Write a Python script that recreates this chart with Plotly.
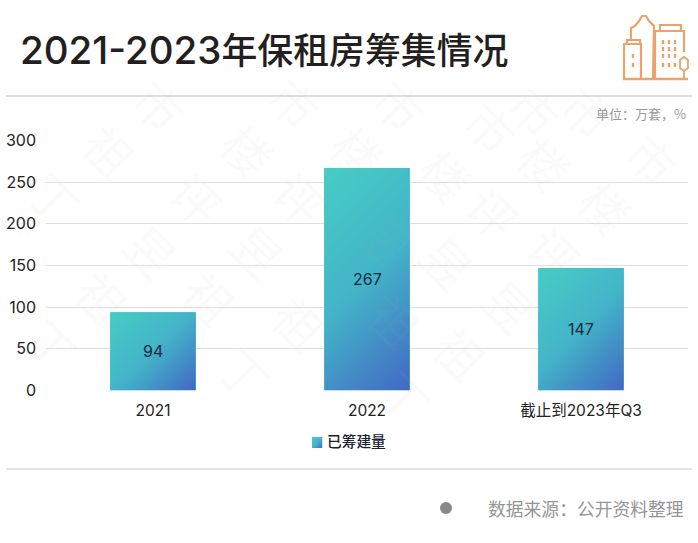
import base64
import plotly.graph_objects as go

categories = ["2021", "2022", "截止到2023年Q3"]
values = [94, 267, 147]
series_name = "已筹建量"
y_ticks = [0, 50, 100, 150, 200, 250, 300]
title_digits = "2021-2023"
title_rest = "年保租房筹集情况"
unit_text = "单位：万套，%"
source_text = "数据来源：公开资料整理"

W, H = 698, 543
FONT = "Inter, 'Noto Sans CJK SC', sans-serif"
CJK = "'Noto Sans CJK SC', sans-serif"
ORANGE = "#e9a36c"

wm_chars = ["祖", "楼", "楼", "丁", "评", "评", "昱", "昱", "祖", "祖", "祖", "丁", "丁",
            "市", "市", "市", "市", "市", "市", "楼", "楼", "楼", "评", "评", "昱", "昱", "祖",
            "昱", "祖", "丁", "市"]
wm_xy = [(110, 150), (248, 150), (358, 152), (55, 197), (197, 198), (300, 198), (152, 250), (258, 250),
         (103, 297), (210, 297), (300, 322), (52, 343), (245, 372),
         (160, 105), (295, 102), (400, 105), (491, 127), (588, 112), (653, 158),
         (446, 175), (545, 163), (606, 207), (493, 212), (555, 252), (448, 262), (510, 305), (461, 352),
         (388, 240), (395, 320), (405, 395), (535, 110)]


def px(x, y):
    return x / W, 1 - y / H


def note(x, y, text, size, color, anchor="left", family=FONT, weight=400):
    fx, fy = px(x, y)
    return dict(x=fx, y=fy, xref="paper", yref="paper", text=text, showarrow=False,
                xanchor=anchor, yanchor="middle",
                font=dict(size=size, color=color, family=family, weight=weight))


def gradient(w, h):
    """A 45-degree gradient for a box of w x h screen pixels, as a data URI."""
    end = (w + h) / 2
    svg = (f'<svg xmlns="http://www.w3.org/2000/svg" width="{w:.1f}" height="{h:.1f}" '
           f'viewBox="0 0 {w:.1f} {h:.1f}" preserveAspectRatio="none"><defs>'
           f'<linearGradient id="g" gradientUnits="userSpaceOnUse" x1="0" y1="0" x2="{end:.1f}" y2="{end:.1f}">'
           '<stop offset="0" stop-color="#46cdc4"/><stop offset="0.5" stop-color="#43b4c8"/>'
           '<stop offset="1" stop-color="#4268c4"/></linearGradient></defs>'
           f'<rect width="{w:.1f}" height="{h:.1f}" fill="url(#g)"/></svg>')
    return "data:image/svg+xml;base64," + base64.b64encode(svg.encode()).decode()


positions = list(range(len(categories)))
BAR_W = 0.4
PLOT_W, PLOT_H = 642, 250
Y_MAX = 300

fig = go.Figure()
fig.add_trace(go.Bar(x=positions, y=values, name=series_name, width=BAR_W, showlegend=False,
                     legendgroup="a", marker=dict(color="#3fb3c6", line=dict(width=0))))
# legend entry only: its swatch is painted as a small gradient image next to the text
fig.add_trace(go.Bar(x=[None], y=[None], name=series_name, legendgroup="a", showlegend=True,
                     marker=dict(color="rgba(0,0,0,0)", line=dict(width=0))))

images = [dict(source=gradient(BAR_W * PLOT_W / 3, v * PLOT_H / Y_MAX), xref="x", yref="y",
               x=p - BAR_W / 2, y=v, sizex=BAR_W, sizey=v,
               sizing="stretch", xanchor="left", yanchor="top", layer="above")
          for p, v in zip(positions, values)]
sx, sy = px(312, 437)
images.append(dict(source=gradient(10.5, 11), xref="paper", yref="paper", x=sx, y=sy,
                   sizex=10.5 / W, sizey=11 / H,
                   sizing="stretch", xanchor="left", yanchor="top", layer="above"))

annotations = []
for ch, (x, y) in zip(wm_chars, wm_xy):
    a = note(x, y, ch, 48, "rgba(175,180,195,0.07)", "center", CJK)
    a["textangle"] = 45
    annotations.append(a)
for p, v in zip(positions, values):
    annotations.append(dict(x=p, y=v / 2, xref="x", yref="y", text=str(v), showarrow=False,
                            font=dict(size=16, color="#14293f", family=FONT)))
title_html = f'<span style="font-size:38.5px">{title_digits}</span>{title_rest}'
annotations += [
    note(18, 49.5, title_html, 35.9, "#231f20", "left", FONT, 500),
    note(688, 113, unit_text, 13, "#999999", "right", CJK),
    note(686, 508, source_text, 17.8, "#959595", "right", CJK),
]


def line(x0, y0, x1, y1, color, width):
    a, b = px(x0, y0), px(x1, y1)
    return dict(type="line", xref="paper", yref="paper", x0=a[0], y0=a[1], x1=b[0], y1=b[1],
                line=dict(color=color, width=width), layer="above")


def path(points, color=ORANGE, width=2.2):
    d = "M" + " L".join(f"{px(x, y)[0]:.5f},{px(x, y)[1]:.5f}" for x, y in points)
    return dict(type="path", xref="paper", yref="paper", path=d,
                line=dict(color=color, width=width), layer="above")


shapes = [line(6, 96, 692, 96, "#bdbdbd", 1.2), line(6, 469, 692, 469, "#c9c9c9", 1.2)]
a, b = px(440, 502), px(452, 514)
shapes.append(dict(type="circle", xref="paper", yref="paper", x0=a[0], y0=a[1], x1=b[0], y1=b[1],
                   fillcolor="#888888", line=dict(width=0)))
# building icon
shapes += [
    path([(623, 79), (688, 79)], width=2.6),
    path([(624, 79), (624, 44), (641, 44), (641, 79)]),
    path([(627, 44), (627, 40), (640, 40), (640, 44)]),
    path([(631, 40), (631, 28), (635, 26), (639, 21), (642, 16), (646, 16), (649, 21), (654, 26), (653, 79)]),
    path([(655, 79), (655, 31), (684, 31), (684, 52)]),
    path([(660, 31), (660, 25), (681, 25), (681, 31)]),
    path([(684, 71), (680, 68), (680, 60), (684, 57), (688, 60), (688, 68), (684, 71), (684, 79)], width=1.8),
]
for x in (663, 669, 675):
    for y in (40, 47, 54, 63):
        shapes.append(path([(x, y), (x, y + 4)], width=2.4))
for y in (54, 63):
    shapes.append(path([(633, y), (633, y + 4)], width=2.4))

fig.update_layout(
    width=W, height=H, margin=dict(l=0, r=0, t=0, b=0, autoexpand=False),
    paper_bgcolor="white", plot_bgcolor="white", barmode="overlay",
    font=dict(family=FONT, color="#222222"),
    xaxis=dict(domain=[46 / W, 688 / W], range=[-0.5, 2.5], tickmode="array", tickvals=positions,
               ticktext=categories, showgrid=False, zeroline=False, showline=False, ticks="",
               tickfont=dict(size=15.5, color="#222222"), ticklabelstandoff=9),
    yaxis=dict(domain=[1 - 390.5 / H, 1 - 140.5 / H], range=[0, Y_MAX], tickmode="array", tickvals=y_ticks,
               gridcolor="#dcdfea", gridwidth=1.2, zeroline=False, showline=False, ticks="",
               tickfont=dict(size=16, color="#222222"), ticklabelstandoff=9),
    legend=dict(x=287 / W, y=1 - 442 / H, xanchor="left", yanchor="middle", orientation="h",
                bgcolor="rgba(0,0,0,0)", font=dict(size=14.7, color="#1c2230", family=CJK, weight=500)),
    images=images, annotations=annotations, shapes=shapes,
)
fig.write_html("out.html", config={"displayModeBar": False},
               post_script="document.body.style.margin='0';document.documentElement.style.overflow='hidden';")
